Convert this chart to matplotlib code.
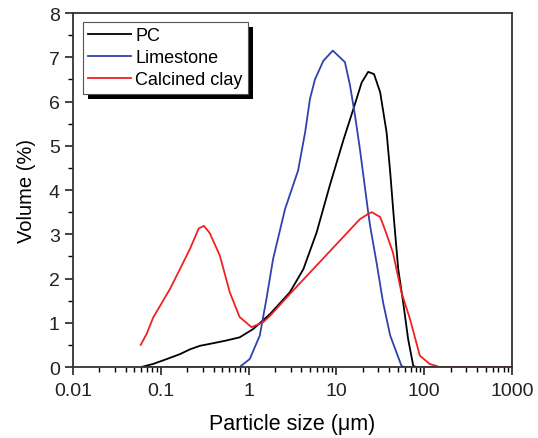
import matplotlib
matplotlib.use("Agg")
import matplotlib.pyplot as plt
from matplotlib.patches import Rectangle
from matplotlib.ticker import LogLocator, FixedLocator, NullFormatter, FuncFormatter

plt.rcParams['font.family'] = ['Liberation Sans', 'DejaVu Sans']

# Particle size distributions (size in um, volume in %)
pc_size = [0.06, 0.082, 0.117, 0.165, 0.215, 0.28, 0.4, 0.56, 0.79, 1.13, 1.76, 2.95, 4.2,
           5.95, 8.4, 12.1, 15.6, 19.4, 23, 26.8, 31.5, 37.3, 41, 45, 50.6, 57.5, 65.6, 75, 80, 1000]
pc_vol = [0.0, 0.07, 0.18, 0.29, 0.4, 0.48, 0.54, 0.6, 0.67, 0.86, 1.2, 1.69, 2.21,
          3.04, 4.1, 5.15, 5.83, 6.43, 6.67, 6.62, 6.21, 5.3, 4.4, 3.39, 2.21, 1.47, 0.63, 0.03, 0.0, 0.0]

ls_size = [0.06, 0.79, 1.03, 1.34, 1.6, 1.9, 2.6, 3.66, 4.4, 5.0, 5.7, 7.1, 9.1, 12.5, 14.3, 16.3,
           18.5, 23, 24.2, 28.6, 34, 41, 55, 58, 1000]
ls_vol = [0.0, 0.0, 0.18, 0.71, 1.55, 2.44, 3.57, 4.44, 5.3, 6.06, 6.5, 6.92, 7.15, 6.89, 6.36, 5.68,
          4.93, 3.5, 3.19, 2.37, 1.46, 0.71, 0.03, 0.0, 0.0]

cc_size = [0.059, 0.069, 0.082, 0.127, 0.165, 0.215, 0.27, 0.31, 0.36, 0.47, 0.61, 0.79, 1.08,
           1.46, 1.76, 2.95, 18.5, 23, 25.2, 31.5, 35.5, 44, 55, 69, 89, 115, 150, 1000]
cc_vol = [0.5, 0.75, 1.12, 1.76, 2.21, 2.67, 3.13, 3.19, 3.03, 2.52, 1.69, 1.13, 0.9,
          1.01, 1.16, 1.65, 3.34, 3.46, 3.5, 3.39, 3.12, 2.59, 1.69, 1.08, 0.26, 0.07, 0.0, 0.0]

fig = plt.figure(figsize=(5.38, 4.39), dpi=100)
ax = fig.add_axes([0.1357, 0.1617, 0.816, 0.8064])

ax.plot(pc_size, pc_vol, color='black', lw=1.3, label='PC')
ax.plot(ls_size, ls_vol, color='#2f42ad', lw=1.3, label='Limestone')
ax.plot(cc_size, cc_vol, color='#ee2222', lw=1.3, label='Calcined clay')

ax.set_xscale('log')
ax.set_xlim(0.01, 1000)
ax.set_ylim(0, 8)

ax.xaxis.set_major_locator(LogLocator(base=10, numticks=10))
ax.xaxis.set_major_formatter(FuncFormatter(lambda v, p: f"{v:g}"))
ax.xaxis.set_minor_locator(LogLocator(base=10, subs=range(2, 10), numticks=20))
ax.xaxis.set_minor_formatter(NullFormatter())
ax.yaxis.set_major_locator(FixedLocator(range(0, 9)))
ax.yaxis.set_minor_locator(FixedLocator([i + 0.5 for i in range(8)]))

ax.tick_params(which='major', direction='out', length=6, width=1.2, labelsize=14, colors='#222222')
ax.tick_params(axis='x', which='major', pad=5)
ax.tick_params(which='minor', direction='out', length=3.5, width=1.0)
for s in ax.spines.values():
    s.set_linewidth(1.3)
    s.set_color('#333333')

ax.set_xlabel('Particle size (\u03bcm)', fontsize=15.5, labelpad=10)
ax.set_ylabel('Volume (%)', fontsize=14.5, labelpad=9)

leg = ax.legend(loc='upper left', bbox_to_anchor=(0.022, 0.975), fontsize=13, frameon=True,
                fancybox=False, edgecolor='#555555', framealpha=1, handlelength=2.4,
                handletextpad=0.2, borderpad=0.3, labelspacing=0.28, borderaxespad=0.0)
leg.get_frame().set_linewidth(0.8)
leg.set_zorder(5)

# black drop shadow behind the legend
fig.canvas.draw()
bb = leg.get_window_extent()
shadow = Rectangle((bb.x0 + 5, bb.y0 - 5), bb.width, bb.height, transform=None,
                   facecolor='black', edgecolor='none', zorder=4.9)
ax.add_artist(shadow)

fig.savefig('out.png', dpi=100)
